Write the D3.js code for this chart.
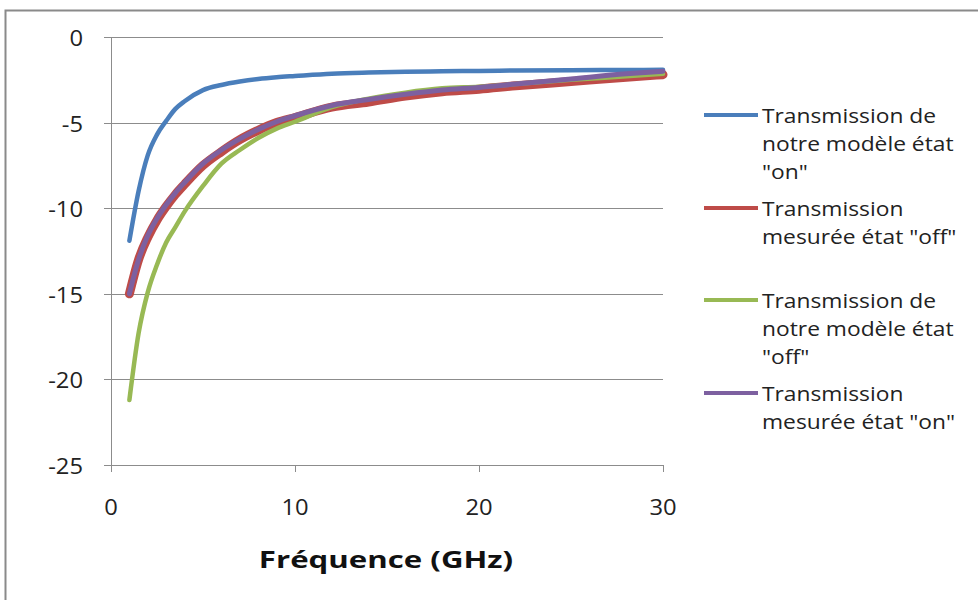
<!DOCTYPE html>
<meta charset="utf-8">
<script src="https://d3js.org/d3.v7.min.js"></script>
<body style="margin:0;background:#fff">
<svg width="978" height="601"></svg>
<script>
    // frequencies (GHz) shared by every series
    var freq = [1, 1.5, 2, 2.5, 3, 3.5, 4, 5, 6, 7, 8, 9, 10, 12, 14, 16, 18, 20, 22, 25, 28, 30];

    var modelOn     = [-11.9, -9.0, -6.9, -5.7, -4.9, -4.2, -3.75, -3.1, -2.8, -2.6, -2.45, -2.35, -2.28, -2.15, -2.08, -2.03, -2.0, -1.98, -1.96, -1.94, -1.93, -1.92];
    var measuredOff = [-15.0, -13.0, -11.7, -10.7, -9.9, -9.2, -8.6, -7.5, -6.7, -6.0, -5.45, -5.0, -4.7, -4.1, -3.8, -3.45, -3.2, -3.05, -2.85, -2.6, -2.35, -2.2];
    var modelOff    = [-21.2, -17.3, -14.9, -13.3, -12.0, -11.1, -10.2, -8.7, -7.4, -6.6, -5.9, -5.35, -4.95, -4.1, -3.6, -3.25, -3.0, -2.9, -2.75, -2.5, -2.3, -2.15];
    var measuredOn  = [-15.0, -13.0, -11.6, -10.6, -9.8, -9.1, -8.5, -7.4, -6.6, -5.95, -5.4, -4.95, -4.6, -4.0, -3.65, -3.35, -3.1, -2.95, -2.75, -2.45, -2.15, -2.0];

    var seriesNames = [
        ['Transmission de', 'notre modèle état', '"on"'],
        ['Transmission', 'mesurée état "off"'],
        ['Transmission de', 'notre modèle état', '"off"'],
        ['Transmission', 'mesurée état "on"']
    ];
    var colors = ['#4a7ebb', '#be4b48', '#98b954', '#7d60a0'];
    var widths = [4.5, 9, 4.5, 5];

    var xTicks = [0, 10, 20, 30];
    var yTicks = [0, -5, -10, -15, -20, -25];

    var svg = d3.select('svg');
    var font = '"Open Sans", sans-serif';

    // the original text is a bit stretched sideways
    function stretched(sel, px, py, sx){
        return sel.attr('transform', 'translate(' + px + ',' + py + ') scale(' + sx + ',1)');
    }

    // outer frame
    svg.append('path')
        .attr('d', 'M5.5,600 V10.5 H978')
        .attr('fill', 'none')
        .attr('stroke', '#8a8a8a')
        .attr('stroke-width', 2);

    var x = d3.scaleLinear().domain([0, 30]).range([111, 663]);
    var y = d3.scaleLinear().domain([-25, 0]).range([465, 37]);

    /* ----------- GRID ----------- */
    svg.selectAll('line.grid').data(yTicks).enter()
        .append('line')
        .attr('class', 'grid')
        .attr('x1', 104).attr('x2', x(30))
        .attr('y1', function(d){ return Math.round(y(d)) + 0.5; })
        .attr('y2', function(d){ return Math.round(y(d)) + 0.5; })
        .attr('stroke', '#8c8c8c')
        .attr('stroke-width', 1);

    svg.append('line')
        .attr('x1', x(0) + 0.5).attr('x2', x(0) + 0.5)
        .attr('y1', y(0)).attr('y2', y(-25) + 7)
        .attr('stroke', '#8c8c8c');

    svg.selectAll('line.xtick').data(xTicks).enter()
        .append('line')
        .attr('class', 'xtick')
        .attr('x1', function(d){ return Math.round(x(d)) + 0.5; })
        .attr('x2', function(d){ return Math.round(x(d)) + 0.5; })
        .attr('y1', y(-25)).attr('y2', y(-25) + 7)
        .attr('stroke', '#8c8c8c');

    /* ----------- TICK LABELS ----------- */
    svg.selectAll('text.ylab').data(yTicks).enter()
        .append('text')
        .attr('class', 'ylab')
        .each(function(d){ stretched(d3.select(this), 83, y(d) + 9, 1.08); })
        .attr('text-anchor', 'end')
        .style('font-family', font)
        .style('font-size', '22px')
        .attr('fill', '#222')
        .text(function(d){ return d; });

    svg.selectAll('text.xlab').data(xTicks).enter()
        .append('text')
        .attr('class', 'xlab')
        .each(function(d){ stretched(d3.select(this), x(d), 515, 1.08); })
        .attr('text-anchor', 'middle')
        .style('font-family', font)
        .style('font-size', '22px')
        .attr('fill', '#222')
        .text(function(d){ return d; });

    stretched(svg.append('text'), 386, 568, 1.3)
        .attr('text-anchor', 'middle')
        .style('font-family', font)
        .style('font-size', '24px')
        .style('font-weight', 'bold')
        .attr('fill', '#111')
        .text('Fréquence (GHz)');

    /* ----------- LINES ----------- */
    var allSeries = [modelOn, measuredOff, modelOff, measuredOn];

    var line = d3.line()
        .x(function(d, i){ return x(freq[i]); })
        .y(function(d){ return y(d); })
        .curve(d3.curveMonotoneX);

    svg.selectAll('path.series').data(allSeries).enter()
        .append('path')
        .attr('class', 'series')
        .attr('fill', 'none')
        .attr('stroke', function(d, i){ return colors[i]; })
        .attr('stroke-width', function(d, i){ return widths[i]; })
        .attr('stroke-linecap', 'round')
        .attr('stroke-linejoin', 'round')
        .attr('d', line);

    /* ----------- LEGEND ----------- */
    var legendY = [115, 208, 300, 393];

    var legend = svg.selectAll('g.legend').data(seriesNames).enter()
        .append('g')
        .attr('class', 'legend')
        .attr('transform', function(d, i){ return 'translate(0,' + legendY[i] + ')'; });

    legend.append('line')
        .attr('x1', 704).attr('x2', 758)
        .attr('y1', 0).attr('y2', 0)
        .attr('stroke', function(d, i){ return colors[i]; })
        .attr('stroke-width', 4);

    legend.each(function(d){
        var g = d3.select(this);
        d.forEach(function(t, k){
            stretched(g.append('text'), 762, 8 + k * 28, 1.14)
                .style('font-family', font)
                .style('font-size', '20px')
                .attr('fill', '#222')
                .text(t);
        });
    });
</script>
</body>
